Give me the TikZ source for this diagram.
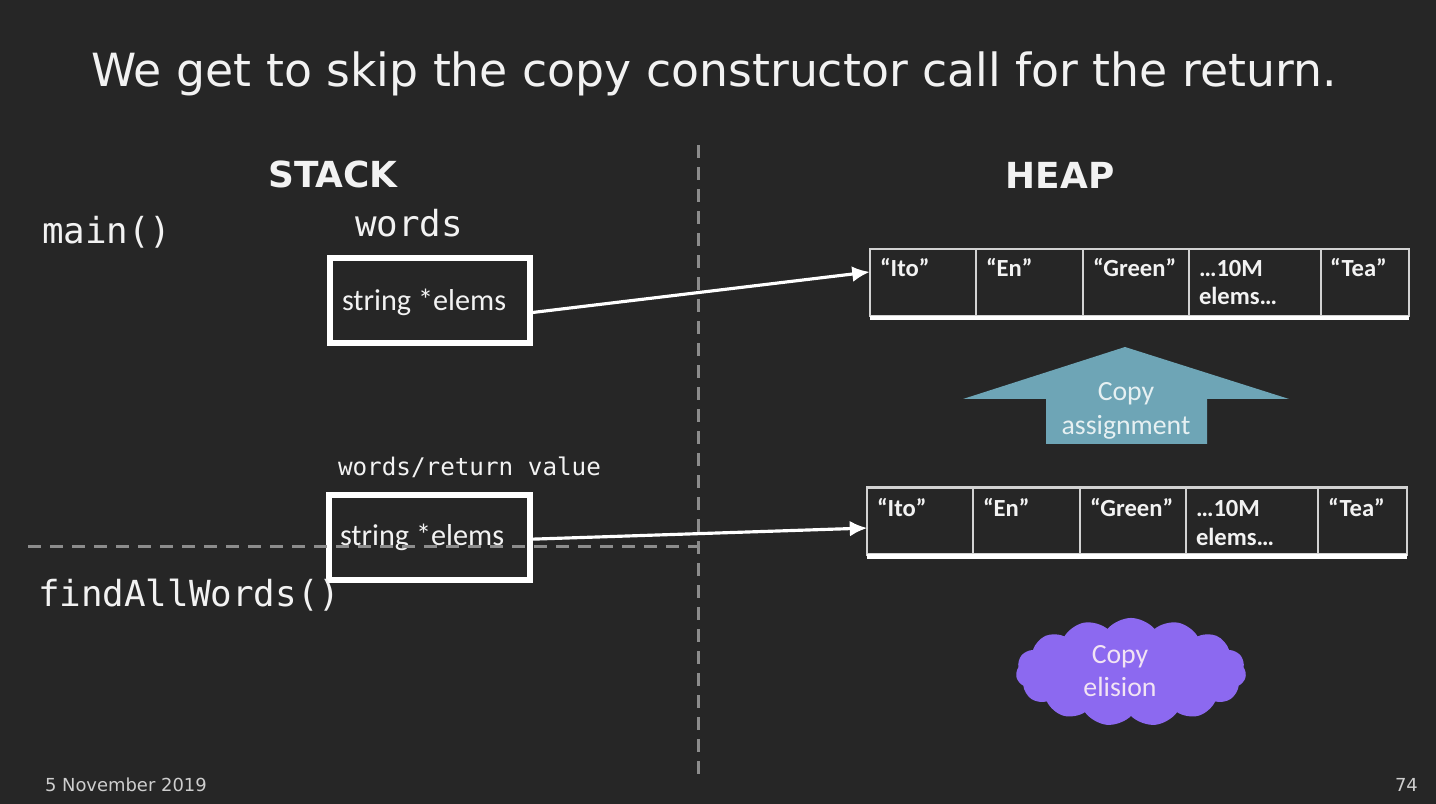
\documentclass[tikz,border=0pt]{standalone}
\usepackage{fontspec}
\setmainfont{DejaVu Sans}
\newfontfamily\codefont{DejaVu Sans Mono}
\newfontfamily\bodyfont{Carlito}
\usetikzlibrary{arrows.meta,shapes.symbols}

\definecolor{slidebg}{HTML}{262626}
\definecolor{ink}{HTML}{F2F2F2}
\definecolor{guide}{HTML}{8C8C8C}
\definecolor{cellline}{HTML}{D2D2D2}
\definecolor{arrowteal}{HTML}{6EA5B6}
\definecolor{tealtext}{HTML}{E6F0F2}
\definecolor{cloudpurple}{HTML}{8C69F0}
\definecolor{cloudtext}{HTML}{F2E4F4}

\begin{document}
\begin{tikzpicture}[
  x=0.01cm, y=-0.01cm,
  every node/.style={inner sep=0pt, outer sep=0pt, text=ink},
  title/.style={font=\fontsize{13pt}{15pt}\selectfont, anchor=base},
  heading/.style={font=\bfseries\fontsize{10.2pt}{12pt}\selectfont, anchor=base},
  code/.style={font=\codefont\fontsize{10.2pt}{12pt}\selectfont, anchor=base west},
  smallcode/.style={font=\codefont\fontsize{6.9pt}{8pt}\selectfont, anchor=base west},
  field/.style={font=\bodyfont\fontsize{8.6pt}{10pt}\selectfont, anchor=base west},
  frame/.style={draw=white, line width=1.7pt, minimum width=2cm, minimum height=0.85cm},
  array/.style={draw=cellline, line width=0.6pt, minimum width=5.39cm, minimum height=0.67cm},
  divider/.style={draw=cellline, line width=0.6pt},
  cell/.style={font=\bodyfont\bfseries\fontsize{7pt}{8pt}\selectfont, anchor=base west},
  pointer/.style={draw=white, line width=0.9pt, -{Latex[length=5pt,width=4.5pt]}},
  guideline/.style={draw=guide, line width=0.85pt, dash pattern=on 0.13cm off 0.09cm},
  footer/.style={font=\fontsize{5.1pt}{6pt}\selectfont, anchor=base west, text=ink!85!black}
]
% slide background
\fill[slidebg] (0,0) rectangle (1436,804);

% title and column headings
\node[title] (title) at (714,87) {We get to skip the copy constructor call for the return.};
\node[heading] (stack) at (333,188) {STACK};
\node[heading] (heap) at (1060,189) {HEAP};

% stack frames
\node[code] (main) at (42,244) {main()};
\node[code] (words) at (355,237) {words};
\node[frame] (box1) at (430,300.5) {};
\node[field] (elems1) at (342,311) {string *elems};

\node[smallcode] (retval) at (338,476) {words/return value};
\node[frame] (box2) at (429.5,537.5) {};
\node[field] (elems2) at (340,546) {string *elems};
\node[code] (find) at (38,607) {findAllWords()};

% heap array owned by main's words
\node[array] (arr1) at (1139.5,282.5) {};
\foreach \xd in {976,1083,1189,1321} \draw[divider] (\xd,249) -- (\xd,316);
\draw[white, line width=1.2pt] (arr1.south west) ++(0,2) -- ++(539,0);
\node[cell] (a1) at (880,277) {“Ito”};
\node[cell] (a2) at (986,277) {“En”};
\node[cell] (a3) at (1093,277) {“Green”};
\node[cell] (a4) at (1199,277) {…10M};
\node[cell] (a4b) at (1199,305) {elems…};
\node[cell] (a5) at (1330,277) {“Tea”};

% heap array owned by the return value
\node[array] (arr2) at (1137,521) {};
\foreach \xd in {973,1080,1186,1318} \draw[divider] (\xd,488) -- (\xd,554);
\draw[white, line width=1.2pt] (arr2.south west) ++(0,2) -- ++(540,0);
\node[cell] (b1) at (877,517) {“Ito”};
\node[cell] (b2) at (983,517) {“En”};
\node[cell] (b3) at (1090,517) {“Green”};
\node[cell] (b4) at (1196,517) {…10M};
\node[cell] (b4b) at (1196,546) {elems…};
\node[cell] (b5) at (1328,517) {“Tea”};

% pointers into the heap
\draw[pointer] ([yshift=-3.5]box1.east) -- ([yshift=3]arr1.west);
\draw[pointer] ([yshift=-0.5]box2.east) -- ([yshift=-2]arr2.west);

% copy assignment arrow
\fill[arrowteal] (963,399) -- (1125,347) -- (1289,399) -- (1207,399)
  -- (1207,444) -- (1046,444) -- (1046,399) -- cycle;
\node[font=\bodyfont\fontsize{7.9pt}{9.6pt}\selectfont, text=tealtext, align=center]
  (assign) at (1126,411) {Copy\\assignment};

% copy elision cloud
\node[cloud, cloud puffs=15, cloud puff arc=100, aspect=2.3, fill=cloudpurple,
  minimum width=2.3cm, minimum height=1.08cm] (elision) at (1131,672) {};
\node[font=\bodyfont\fontsize{7.9pt}{9.6pt}\selectfont, text=cloudtext, align=center]
  (elisiontext) at (1120,671) {Copy\\elision};

% stack / heap and frame boundaries
\coordinate (splittop) at (698,145);
\coordinate (splitbottom) at (698,776);
\coordinate (framel) at (28,547);
\coordinate (framer) at (698,547);
\draw[guideline] (splittop) -- (splitbottom);
\draw[guideline] (framel) -- (framer);

% footer
\node[footer] (date) at (45,792) {5 November 2019};
\node[footer] (page) at (1395,792) {74};
\end{tikzpicture}
\end{document}
